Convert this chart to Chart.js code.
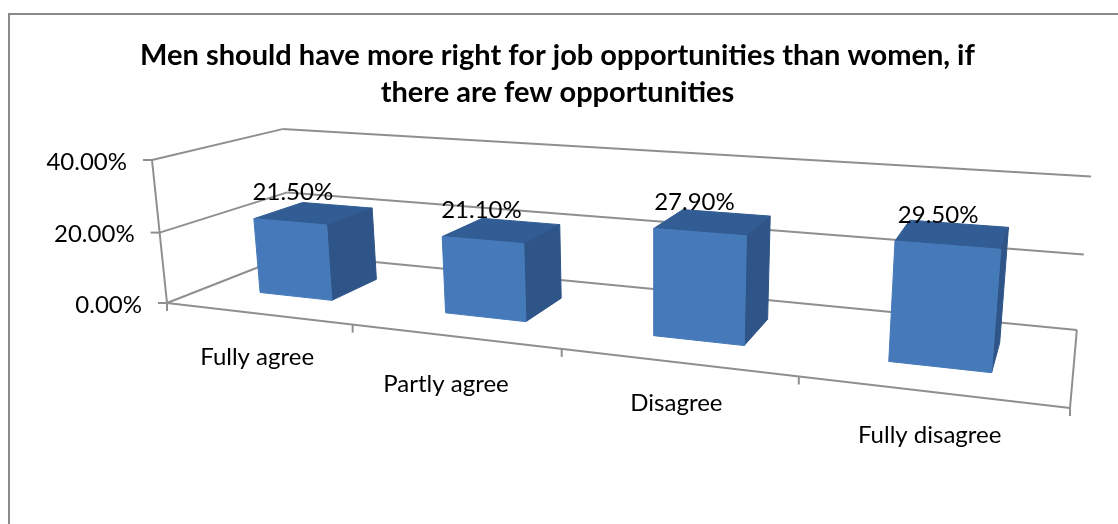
<!DOCTYPE html>
<html>
<head>
<meta charset="utf-8">
<style>
  html, body { margin: 0; background: #fff; }
  #myChart { position: absolute; left: 0; top: 0; }
</style>
<script src="https://cdn.jsdelivr.net/npm/chart.js@4"></script>
</head>
<body>
<canvas id="myChart" width="1118" height="524"></canvas>
<script>
const categories = ['Fully agree', 'Partly agree', 'Disagree', 'Fully disagree'];
const percentValues = [21.5, 21.1, 27.9, 29.5];
const axisTicks = [0, 20, 40];
const titleLines = [
  'Men should have more right for job opportunities than women, if',
  'there are few opportunities'
];

// nudges for the category captions, px from the front floor edge
const captionShift = [[0, 44], [-8, 48], [0, 41], [0, 44]];

// perspective box: origin corner, the three axis ends and their weights
const cam = {
  o: [167, 303], x: [1070, 408], y: [152, 160], z: [292, 254],
  wx: 0.7765, wy: 0.97, wz: 1.1525
};

// u along categories, v up the value axis, w into the chart (all 0..1)
function project(u, v, w) {
  const d = 1 + u * (cam.wx - 1) + v * (cam.wy - 1) + w * (cam.wz - 1);
  const at = i => cam.o[i]
    + u * (cam.wx * cam.x[i] - cam.o[i])
    + v * (cam.wy * cam.y[i] - cam.o[i])
    + w * (cam.wz * cam.z[i] - cam.o[i]);
  return [at(0) / d, at(1) / d];
}

function line(ctx, a, b) {
  ctx.beginPath();
  ctx.moveTo(a[0], a[1]);
  ctx.lineTo(b[0], b[1]);
  ctx.stroke();
}

// filled quad, stroked in its own colour so neighbouring faces leave no seam
function face(ctx, pts, fill) {
  ctx.beginPath();
  pts.forEach((p, i) => i ? ctx.lineTo(p[0], p[1]) : ctx.moveTo(p[0], p[1]));
  ctx.closePath();
  ctx.fillStyle = fill;
  ctx.strokeStyle = fill;
  ctx.lineWidth = 1;
  ctx.fill();
  ctx.stroke();
}

const LABEL_FONT = '24px Lato';

// draws walls, floor and the boxes from the flat scale pixels
const box3d = {
  id: 'box3d',
  beforeDraw(chart) {
    const ctx = chart.ctx;
    ctx.save();
    ctx.strokeStyle = '#8a8a8a';
    ctx.lineWidth = 2;
    line(ctx, [9, 524], [9, 14]);
    line(ctx, [8, 14], [1118, 14]);
    ctx.restore();
  },
  afterDatasetsDraw(chart) {
    const ctx = chart.ctx, area = chart.chartArea;
    const xs = chart.scales.x, ys = chart.scales.y;
    const toU = px => (px - area.left) / (area.right - area.left);
    const toV = py => (area.bottom - py) / (area.bottom - area.top);

    ctx.save();
    ctx.strokeStyle = '#8f8f8f';
    ctx.lineWidth = 2;

    // gridlines over left wall and back wall, plus value axis ticks
    axisTicks.forEach(t => {
      const v = toV(ys.getPixelForValue(t));
      const front = project(0, v, 0);
      const corner = project(0, v, 1);
      line(ctx, [front[0] - 9, front[1]], front);
      line(ctx, front, corner);
      line(ctx, corner, project(1, v, 1));
    });
    line(ctx, project(0, 0, 0), project(0, 1, 0));

    // floor front edge, right edge and category ticks
    line(ctx, project(0, 0, 0), project(1, 0, 0));
    line(ctx, project(1, 0, 0), project(1, 0, 1));
    for (let i = 0; i <= categories.length; i++) {
      const p = project(i / categories.length, 0, 0);
      line(ctx, p, [p[0], p[1] + 8]);
    }

    // the boxes
    const meta = chart.getDatasetMeta(0);
    meta.data.forEach(bar => {
      const u0 = toU(bar.x - bar.width / 2), u1 = toU(bar.x + bar.width / 2);
      const v1 = toV(bar.y), w0 = 0.3, w1 = 0.7;
      face(ctx, [project(u0, v1, w0), project(u1, v1, w0), project(u1, v1, w1), project(u0, v1, w1)], '#325d94');
      face(ctx, [project(u1, 0, w0), project(u1, v1, w0), project(u1, v1, w1), project(u1, 0, w1)], '#2f5488');
      const fr = [project(u0, 0, w0), project(u1, 0, w0), project(u1, v1, w0), project(u0, v1, w0)];
      const grad = ctx.createLinearGradient(fr[0][0], 0, fr[1][0], 0);
      grad.addColorStop(0, '#4679ba');
      grad.addColorStop(1, '#457ab9');
      face(ctx, fr, grad);
    });

    // texts
    ctx.fillStyle = '#000';
    ctx.font = LABEL_FONT;
    ctx.textBaseline = 'middle';

    ctx.textAlign = 'right';
    axisTicks.forEach(t => {
      const p = project(0, toV(ys.getPixelForValue(t)), 0);
      ctx.fillText(t.toFixed(2) + '%', p[0] - 25, p[1] + 2);
    });

    ctx.textAlign = 'center';
    meta.data.forEach((bar, i) => {
      const u = toU(bar.x);
      const p = project(u, toV(bar.y), 0.3);
      ctx.fillText(percentValues[i].toFixed(2) + '%', p[0] + 5 - 16 * u, p[1] - 30);
    });
    categories.forEach((c, i) => {
      const p = project(toU(xs.getPixelForTick(i)), 0, 0);
      ctx.fillText(c, p[0] + captionShift[i][0], p[1] + captionShift[i][1]);
    });
    ctx.restore();
  }
};

new Chart(document.getElementById('myChart'), {
  type: 'bar',
  data: {
    labels: categories,
    datasets: [{
      data: percentValues,
      backgroundColor: 'transparent',
      categoryPercentage: 1,
      barPercentage: 0.4
    }]
  },
  options: {
    responsive: false,
    animation: false,
    layout: { padding: { right: 3 } },
    plugins: {
      legend: { display: false },
      tooltip: { enabled: false },
      title: {
        display: true,
        text: titleLines,
        color: '#000',
        font: { family: 'Lato', size: 29, weight: 'bold', lineHeight: 1.276 },
        padding: { top: 37, bottom: 4 }
      }
    },
    scales: {
      x: { display: false },
      y: { display: false, min: 0, max: 40, ticks: { stepSize: 20 } }
    }
  },
  plugins: [box3d]
});
</script>
</body>
</html>
